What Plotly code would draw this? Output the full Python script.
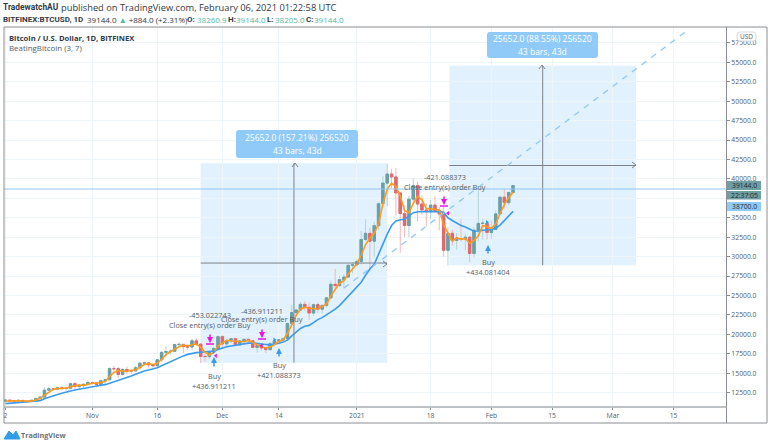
import plotly.graph_objects as go

dates = (
    [f"2020-10-{d:02d}" for d in range(12, 32)]
    + [f"2020-11-{d:02d}" for d in range(1, 31)]
    + [f"2020-12-{d:02d}" for d in range(1, 32)]
    + [f"2021-01-{d:02d}" for d in range(1, 32)]
    + [f"2021-02-{d:02d}" for d in range(1, 7)]
)
opens = [11380, 11540, 11430, 11430, 11500, 11320, 11370, 11510, 11750, 11920, 12820, 12990, 12930, 13120, 13040, 13070, 13650, 13280, 13460, 13560,
         13800, 13760, 13550, 14030, 14160, 15590, 15580, 14840, 15480, 15330, 15300, 15700, 16290, 16330, 16070, 15960, 16730, 17680, 17780, 17820, 18680, 18710, 18420, 18370, 19160, 18730, 17150, 17140, 17720, 18180,
         19700, 18770, 19220, 19440, 18650, 19150, 19360, 19170, 18320, 18550, 18250, 18030, 18800, 19170, 19280, 19440, 21380, 22800, 23130, 23860, 23480, 22740, 23820, 23240, 23730, 24700, 26440, 26270, 27040, 27370, 28880,
         28950, 29370, 32200, 33000, 31990, 33990, 36820, 39460, 40630, 40250, 38200, 35540, 34000, 37390, 39150, 36770, 36010, 35790, 36630, 35900, 35500, 30820, 33000, 32090, 32280, 32260, 32500, 30400, 33400, 34270, 34300,
         33100, 33500, 35500, 37650, 36950, 38260.9]
closes = [11540, 11430, 11430, 11500, 11320, 11370, 11510, 11750, 11920, 12820, 12990, 12930, 13120, 13040, 13070, 13650, 13280, 13460, 13560, 13800,
          13760, 13550, 14030, 14160, 15590, 15580, 14840, 15480, 15330, 15300, 15700, 16290, 16330, 16070, 15960, 16730, 17680, 17780, 17820, 18680, 18710, 18420, 18370, 19160, 18730, 17150, 17140, 17720, 18180, 19700,
          18770, 19220, 19440, 18650, 19150, 19360, 19170, 18320, 18550, 18250, 18030, 18800, 19170, 19280, 19440, 21380, 22800, 23130, 23860, 23480, 22740, 23820, 23240, 23730, 24700, 26440, 26270, 27040, 27370, 28880, 28950,
          29370, 32200, 33000, 31990, 33990, 36820, 39460, 40630, 40250, 38200, 35540, 34000, 37390, 39150, 36770, 36010, 35790, 36630, 35900, 35500, 30820, 33000, 32090, 32280, 32260, 32500, 30400, 33400, 34270, 34300, 33100,
          33500, 35500, 37650, 36950, 38260, 39144]
highs = [11700, 11560, 11540, 11630, 11540, 11400, 11530, 11800, 12020, 13200, 13200, 13030, 13170, 13340, 13250, 13790, 13850, 13620, 13680, 14100,
         13880, 13830, 14060, 14250, 15750, 15960, 15770, 15650, 15850, 15480, 15980, 16350, 16500, 16340, 16180, 16870, 17850, 18470, 18130, 18810, 18960, 18700, 18770, 19400, 19500, 18900, 17450, 17900, 18350, 19850,
         19900, 19300, 19550, 19570, 19200, 19420, 19420, 19290, 18630, 18590, 18290, 18950, 19400, 19350, 19560, 21540, 23800, 23290, 24170, 24300, 24100, 23990, 24100, 23800, 24780, 26900, 28420, 27500, 27730, 28990, 29300,
         29680, 33300, 34800, 33700, 34500, 36950, 40350, 41950, 41300, 41420, 38250, 36600, 37850, 40100, 39700, 37900, 36800, 37300, 37800, 36400, 36400, 33800, 33450, 33050, 34850, 32950, 32600, 33800, 38500, 34850, 34350,
         34700, 35950, 37700, 38700, 38300, 39144]
lows = [11220, 11320, 11280, 11280, 11200, 11300, 11350, 11400, 11680, 11900, 12710, 12720, 12900, 12900, 12780, 13050, 12950, 12980, 13130, 13430,
        13600, 13200, 13300, 13530, 14080, 15170, 14350, 14700, 14850, 14840, 15280, 15450, 15970, 15700, 15800, 15880, 16430, 17200, 17340, 17750, 18400, 17600, 18000, 18020, 18500, 16300, 16500, 16850, 17520, 18180,
        18100, 18320, 18850, 18580, 18530, 18880, 18900, 18200, 17650, 17910, 17570, 18010, 18720, 19000, 19060, 19290, 21250, 22350, 23070, 23050, 21900, 22380, 22720, 22700, 23450, 24500, 25800, 26100, 25900, 27300, 27850,
        28700, 29000, 32000, 28200, 29900, 33400, 36300, 36500, 38800, 35300, 30500, 32500, 32500, 36800, 34500, 35400, 33900, 34800, 35800, 33400, 30000, 28850, 31400, 30900, 31950, 30850, 29280, 29900, 31950, 32200, 32200,
        32300, 33400, 35380, 36200, 36600, 38205]
fast_line = [11420, 11450, 11467, 11453, 11417, 11397, 11400, 11543, 11727, 12163, 12577, 12913, 13013, 13030, 13077, 13253, 13333, 13463, 13433, 13607,
             13707, 13703, 13780, 13913, 14593, 15110, 15337, 15300, 15217, 15370, 15443, 15763, 16107, 16230, 16120, 16253, 16790, 17397, 17760, 18093, 18403, 18603, 18500, 18650, 18753, 18347, 17673, 17337, 17680, 18533,
             18883, 19230, 19143, 19103, 19080, 19053, 19227, 18950, 18680, 18373, 18277, 18360, 18667, 19083, 19297, 20100, 21207, 22437, 23263, 23490, 23360, 23347, 23267, 23597, 23890, 24957, 25803, 26583, 26893, 27763, 28400,
             29067, 30173, 31523, 32397, 32993, 34267, 36757, 38700, 39450, 39000, 37800, 35913, 35643, 36847, 37770, 37310, 36190, 36143, 36107, 36010, 34073, 33107, 31970, 32457, 32210, 32347, 31720, 32100, 32690, 33990, 33890,
             33630, 34200, 35550, 36700, 37620, 38270]
slow_line = [11090, 11130, 11170, 11200, 11240, 11280, 11320, 11380, 11475, 11700, 11920, 12100, 12270, 12430, 12600, 12720, 12830, 12950, 13060, 13180,
             13300, 13380, 13450, 13525, 13700, 13860, 14050, 14250, 14440, 14640, 14870, 15100, 15290, 15420, 15540, 15700, 15950, 16220, 16500, 16770, 17030, 17230, 17420, 17580, 17650, 17700, 17720, 17740, 17850, 18040,
             18270, 18400, 18510, 18620, 18730, 18810, 18870, 18880, 18850, 18780, 18700, 18650, 18720, 18850, 19000, 19250, 19800, 20300, 20750, 21050, 21150, 21500, 21900, 22150, 22500, 22900, 23250, 23700, 24300, 25000, 25600,
             26100, 26700, 27600, 28400, 29000, 30300, 31700, 32900, 34000, 34600, 34750, 34800, 35200, 35650, 35780, 35800, 35800, 35800, 35800, 35800, 35700, 35000, 34650, 34300, 34000, 33800, 33500, 33270, 33300, 33400, 33450,
             33500, 33660, 34050, 34650, 35200, 35830]

y_ticks = [12500, 15000, 17500, 20000, 22500, 25000, 27500, 30000, 32500, 35000, 37500, 40000, 42500, 45000, 47500, 50000, 52500, 55000, 57500]
y_labels = ["12500.0", "15000.0", "17500.0", "20000.0", "22500.0", "25000.0", "27500.0", "30000.0", "32500.0", "35000.0", "", "40000.0", "42500.0", "45000.0", "47500.0", "50000.0", "52500.0", "55000.0", "57500.0"]
x_ticks = ["2020-10-12", "2020-11-01", "2020-11-16", "2020-12-01", "2020-12-14", "2021-01-01", "2021-01-18", "2021-02-01", "2021-02-15", "2021-03-01", "2021-03-15"]
x_labels = ["2", "Nov", "16", "Dec", "14", "2021", "18", "Feb", "15", "Mar", "15"]

buy_dates = ["2020-11-29", "2020-12-13", "2021-01-31"]
buy_prices = [17760, 19290, 34420]
close_dates = ["2020-11-29 12:00", "2020-12-10", "2021-01-22"]
close_prices = [17240, 18520, 35580]

TEXT = "#555c66"
UP_BODY, UP_WICK = "#6b9fa6", "#b4d4d6"
DOWN_BODY, DOWN_WICK = "#dd6a6e", "#f0b8ba"
BLUE = "#3a9bef"
ORANGE = "#ff9a1f"
MAGENTA = "#e815e8"
FONT = "Open Sans"

fig = go.Figure()
# wicks in their pale colours, then the solid bodies on the same dates
fig.add_trace(go.Candlestick(
    x=dates, open=opens, high=highs, low=lows, close=closes,
    increasing=dict(line=dict(color=UP_WICK, width=1), fillcolor=UP_WICK),
    decreasing=dict(line=dict(color=DOWN_WICK, width=1), fillcolor=DOWN_WICK),
    showlegend=False, hoverinfo="skip"))
fig.add_trace(go.Candlestick(
    x=dates, open=opens, close=closes,
    high=[max(o, c) for o, c in zip(opens, closes)], low=[min(o, c) for o, c in zip(opens, closes)],
    increasing=dict(line=dict(color=UP_BODY, width=1), fillcolor=UP_BODY),
    decreasing=dict(line=dict(color=DOWN_BODY, width=1), fillcolor=DOWN_BODY),
    showlegend=False, hoverinfo="skip"))
fig.add_trace(go.Scatter(x=dates, y=slow_line, mode="lines", line=dict(color=BLUE, width=1.6), showlegend=False, hoverinfo="skip"))
fig.add_trace(go.Scatter(x=dates, y=fast_line, mode="lines", line=dict(color=ORANGE, width=1.6), showlegend=False, hoverinfo="skip"))
fig.add_trace(go.Scatter(x=buy_dates, y=buy_prices, mode="markers", marker=dict(symbol="triangle-right", size=4, color=BLUE), showlegend=False, hoverinfo="skip"))
fig.add_trace(go.Scatter(x=close_dates, y=close_prices, mode="markers", marker=dict(symbol="triangle-left", size=4, color=MAGENTA), showlegend=False, hoverinfo="skip"))

shapes = []
ranges = [("2020-11-26", "2021-01-08", 16350, 42002, "2020-12-17 12:00", 29176),
          ("2021-01-22 08:00", "2021-03-06 08:00", 28900, 54552, "2021-02-12 20:00", 41726)]
for x0, x1, y0, y1, xm, ym in ranges:
    shapes.append(dict(type="rect", xref="x", yref="y", x0=x0, x1=x1, y0=y0, y1=y1,
                       fillcolor="rgba(144,202,249,0.27)", line=dict(width=0), layer="below"))
    shapes.append(dict(type="line", xref="x", yref="y", x0=xm, x1=xm, y0=y0, y1=y1,
                       line=dict(color="#7d8288", width=1), layer="above"))
    shapes.append(dict(type="line", xref="x", yref="y", x0=x0, x1=x1, y0=ym, y1=ym,
                       line=dict(color="#7d8288", width=1), layer="above"))
shapes.append(dict(type="line", xref="x", yref="y", x0="2020-12-29", x1="2021-03-18", y0=25960, y1=59030,
                   line=dict(color="#90c8f5", width=1.3, dash="6px,6px")))
shapes.append(dict(type="line", xref="paper", yref="y", x0=0, x1=1, y0=38700, y1=38700,
                   line=dict(color="#90c8f5", width=1.2)))
# outer frame and axis separators
W, H = 768, 446
L, R, T, B = 4, 726, 27, 407
def px(v): return (v - L) / (R - L)
def py(v): return (B - v) / (B - T)
frame = "#8a8e93"
shapes += [
    dict(type="rect", xref="paper", yref="paper", x0=px(4), x1=px(767), y0=py(423), y1=py(27), line=dict(color=frame, width=1)),
    dict(type="line", xref="paper", yref="paper", x0=px(726.5), x1=px(726.5), y0=py(423), y1=py(27), line=dict(color=frame, width=1)),
    dict(type="line", xref="paper", yref="paper", x0=px(4), x1=px(726.5), y0=py(407), y1=py(407), line=dict(color="#a8acb0", width=1.5)),
    dict(type="path", xref="paper", yref="paper",
         path=f"M {px(4)} {py(439)} L {px(9)} {py(431)} L {px(13)} {py(435)} L {px(16)} {py(431)} L {px(20)} {py(439)} Z",
         fillcolor="#2f9ee8", line=dict(color="#2f9ee8", width=1)),
]

def round_box(x0, x1, y0, y1, r=3):
    return (f"M {px(x0+r)} {py(y0)} L {px(x1-r)} {py(y0)} Q {px(x1)} {py(y0)} {px(x1)} {py(y0+r)} "
            f"L {px(x1)} {py(y1-r)} Q {px(x1)} {py(y1)} {px(x1-r)} {py(y1)} "
            f"L {px(x0+r)} {py(y1)} Q {px(x0)} {py(y1)} {px(x0)} {py(y1-r)} "
            f"L {px(x0)} {py(y0+r)} Q {px(x0)} {py(y0)} {px(x0+r)} {py(y0)} Z")

ann = []
def note(x, y, s, size=7.3, color=TEXT, anchor="center", family=FONT):
    ann.append(dict(xref="paper", yref="paper", x=px(x), y=py(y), text=s, showarrow=False,
                    xanchor=anchor, yanchor="middle", borderpad=0, borderwidth=0,
                    font=dict(family=family, size=size, color=color)))

TEAL = "#53b9a5"
DARK = "#333a44"
note(3, 7, "<b>TradewatchAU</b>", 8.4, DARK, "left", "Roboto")
note(61, 7, "published on TradingView.com, February 06, 2021 01:22:58 UTC", 9.3, DARK, "left")
note(3, 19.5, "<b>BITFINEX:BTCUSD, 1D</b>", 8, DARK, "left", "Roboto")
note(87, 19.5, f"39144.0 <span style='color:{TEAL}'>▲</span> +884.0 (+2.31%)", 8, DARK, "left")
for x, s in [(187, "O:"), (228, "H:"), (267, "L:"), (306, "C:")]:
    note(x, 19.5, f"<b>{s}</b>", 8, DARK, "left", "Roboto")
for x, s in [(197, "38260.9"), (236, "39144.0"), (275, "38205.0"), (314, "39144.0")]:
    note(x, 19.5, s, 8, TEAL, "left")
note(9, 37.5, "<b>Bitcoin / U.S. Dollar, 1D, BITFINEX</b>", 7.6, DARK, "left")
note(9, 48, "BeatingBitcoin (3, 7)", 7.9, TEXT, "left")
note(21, 434.5, "<b>TradingView</b>", 7.2, "#6a7078", "left")

for s, x, y in [("-453.022743", 210, 315), ("Close entry(s) order Buy", 210, 325),
                ("-436.911211", 262, 311), ("Close entry(s) order Buy", 262, 319),
                ("-421.088373", 445, 177), ("Close entry(s) order Buy", 445, 187),
                ("Buy", 214, 376), ("+436.911211", 214, 386),
                ("Buy", 279, 365), ("+421.088373", 279, 375),
                ("Buy", 488, 262), ("+434.081404", 488, 272)]:
    note(x, y, s)

# measure labels
for x0, x1, y0, y1, t1, t2 in [(236, 358, 130, 158, "25652.0 (157.21%) 256520", "43 bars, 43d"),
                                (487, 598, 32, 58, "25652.0 (88.55%) 256520", "43 bars, 43d")]:
    shapes.append(dict(type="path", xref="paper", yref="paper", path=round_box(x0, x1, y0, y1),
                       fillcolor="#90caf9", line=dict(width=0)))
    note((x0 + x1) / 2, (y0 + y1) / 2 - 6.5, t1, 8.5, "white")
    note((x0 + x1) / 2, (y0 + y1) / 2 + 6.5, t2, 8.5, "white")

# arrows for orders
for x, y0, y1, c in [(214, 368, 357, BLUE), (279, 358, 348, BLUE), (488, 255, 245, BLUE),
                     (210, 333, 343, MAGENTA), (262, 328, 338, MAGENTA), (444, 195, 205, MAGENTA)]:
    ann.append(dict(xref="paper", yref="paper", axref="pixel", ayref="pixel", x=px(x), y=py(y1), ax=0, ay=y0 - y1,
                    text="", showarrow=True, arrowhead=2, arrowsize=0.8, arrowwidth=1.5, arrowcolor=c))
    if c == MAGENTA:
        shapes.append(dict(type="line", xref="paper", yref="paper", x0=px(x - 4), x1=px(x + 4), y0=py(y1 + 1), y1=py(y1 + 1),
                           line=dict(color=c, width=1.5)))

# open chevrons at the far ends of the range cross
for xm, y1, xr, ym in [(295, 163, 387, 264), (542, 65, 636, 165)]:
    shapes.append(dict(type="path", xref="paper", yref="paper", line=dict(color="#7d8288", width=1),
                       path=f"M {px(xm-3)} {py(y1+4)} L {px(xm)} {py(y1)} L {px(xm+3)} {py(y1+4)}"))
    shapes.append(dict(type="path", xref="paper", yref="paper", line=dict(color="#7d8288", width=1),
                       path=f"M {px(xr-4)} {py(ym-3)} L {px(xr)} {py(ym)} L {px(xr-4)} {py(ym+3)}"))

# price flags on the right scale
for y, s, bg, fg, y0, y1 in [(185.5, "39144.0", "#6f9ea3", "#1f2a30", 181, 190), (195.3, "22:37:05", "#6f9ea3", "#1f2a30", 191, 199.5), (206.5, "38700.0", "#90caf9", "#1f2a30", 202, 211)]:
    shapes.append(dict(type="rect", xref="paper", yref="paper", x0=px(727), x1=px(761), y0=py(y1), y1=py(y0), fillcolor=bg, line=dict(width=0)))
    note(744, y, s, 6.8, fg)
shapes.append(dict(type="path", xref="paper", yref="paper", path=round_box(737, 756, 32, 41), fillcolor="white",
                   line=dict(color="#d8dadd", width=1)))
note(746.5, 36.5, "USD", 6.5, TEXT)

fig.update_layout(
    width=W, height=H, margin=dict(l=L, r=W - R, t=T, b=H - B),
    paper_bgcolor="white", plot_bgcolor="white", shapes=shapes, annotations=ann,
    font=dict(family=FONT, size=7, color=TEXT), showlegend=False,
    boxgap=0.25, boxgroupgap=0.25, boxmode="overlay",
    xaxis=dict(type="date", range=["2020-10-11 16:00", "2021-03-27 02:00"], rangeslider=dict(visible=False),
               tickvals=x_ticks, ticktext=x_labels, showgrid=True, gridcolor="#eef5f8", gridwidth=1,
               ticks="outside", ticklen=2, tickcolor="#8a8e93", tickfont=dict(size=6.8, color=TEXT), zeroline=False, showline=False, fixedrange=True),
    yaxis=dict(side="right", range=[10650, 59550], tickvals=y_ticks, ticktext=y_labels, showgrid=True, gridcolor="#eef5f8", gridwidth=1,
               ticks="outside", ticklen=3, tickcolor="#8a8e93", tickfont=dict(size=6.8, color=TEXT), zeroline=False, showline=False, fixedrange=True),
)
fig.write_html("out.html", config={"displayModeBar": False}, post_script="document.body.style.margin='0';")
